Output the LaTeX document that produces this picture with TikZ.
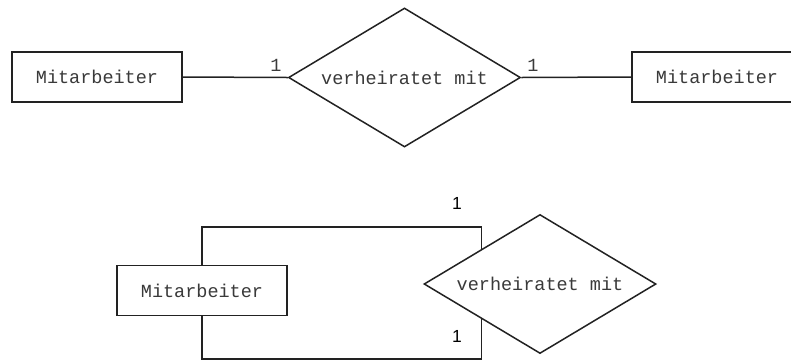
\documentclass[tikz,border=0pt]{standalone}
\usepackage{fontspec}
\newfontfamily\monofnt{Liberation Mono}
\newfontfamily\sansfnt{Liberation Sans}
\usetikzlibrary{shapes.geometric}
\definecolor{ink}{HTML}{222222}
\definecolor{txt}{HTML}{3A3A3A}
\tikzset{
  entity/.style={draw=ink, line width=1.5pt, minimum width=170pt, minimum height=50pt, inner sep=0pt, font=\monofnt\fontsize{18.5}{20}\selectfont, text=txt},
  relship/.style={draw=ink, line width=1.5pt, diamond, aspect=1.66, minimum width=232pt, minimum height=139pt, inner sep=0pt, font=\monofnt\fontsize{18.5}{20}\selectfont, text=txt},
  conn/.style={draw=ink, line width=1.5pt},
  cardm/.style={font=\monofnt\fontsize{18.5}{20}\selectfont, text=txt, inner sep=0pt},
  cards/.style={font=\sansfnt\fontsize{17.5}{19}\selectfont, text=black, inner sep=0pt}
}
\begin{document}
\begin{tikzpicture}[x=1pt,y=-1pt]
\useasboundingbox (0,0) rectangle (791,360);
\clip (0,0) rectangle (791,360);
\fill[white] (0,0) rectangle (791,360);
% top row
\node[entity] (e1) at (97,77) {Mitarbeiter};
\node[relship] (r1) at (404.5,77.5) {verheiratet mit};
\node[entity] (e2) at (717,77) {Mitarbeiter};
\draw[conn] (e1.east) -- (r1.west);
\draw[conn] (r1.east) -- (e2.west);
\node[cardm] (c1) at (276,65) {1};
\node[cardm] (c2) at (533,65) {1};
% bottom row
\node[entity] (e3) at (202,290.5) {Mitarbeiter};
\node[relship] (r2) at (540,284) {verheiratet mit};
\coordinate (tl) at (202,227);
\coordinate (bl) at (202,359);
\draw[conn] (e3.north) -- (tl) -| (r2.north west);
\draw[conn] (e3.south) -- (bl) -| (r2.south west);
\node[cards] (c3) at (457,203) {1};
\node[cards] (c4) at (457,336) {1};
\end{tikzpicture}
\end{document}
